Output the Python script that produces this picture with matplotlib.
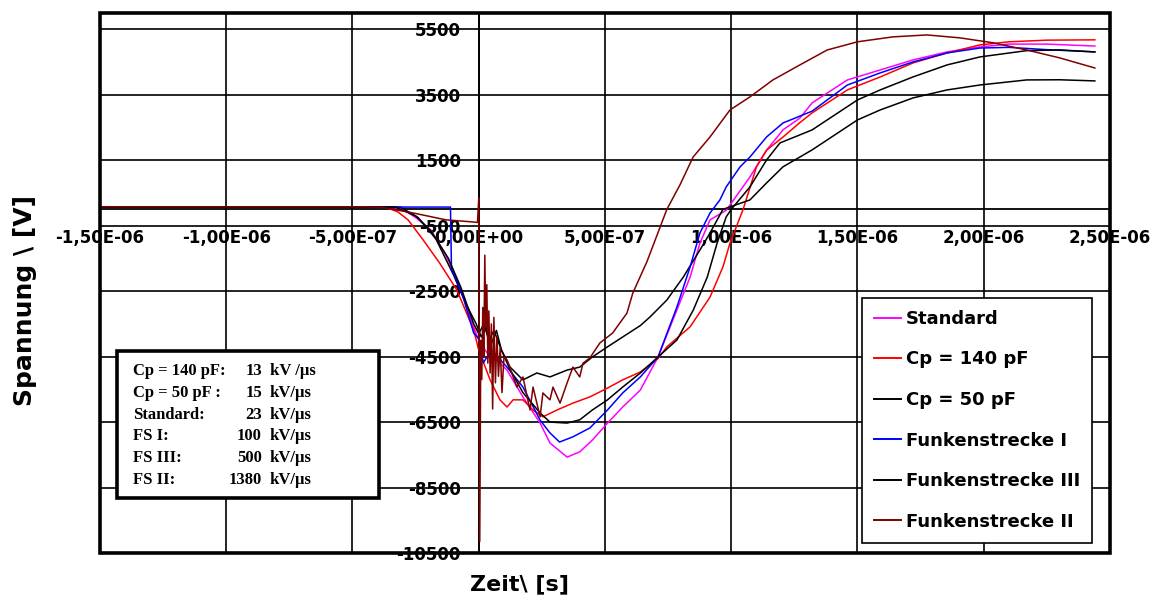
import numpy as np
import matplotlib
matplotlib.use("Agg")
import matplotlib.pyplot as plt
from matplotlib.patches import Rectangle

# Zeit in Mikrosekunden, Spannung in Volt
t_std = [-1.5, -0.35, -0.30, -0.25, -0.19, -0.13, -0.074, -0.02, 0.0, 0.033, 0.07, 0.112, 0.175,
         0.243, 0.282, 0.35, 0.40, 0.45, 0.51, 0.57, 0.64, 0.71, 0.785, 0.837, 0.876, 0.916, 0.98,
         1.074, 1.14, 1.205, 1.272, 1.32, 1.46, 1.59, 1.72, 1.855, 1.985, 2.1, 2.25, 2.44]
v_std = [70, 70, 0, -250, -630, -1400, -2370, -3600, -4000, -4390, -4600, -4910, -5730,
         -6530, -7140, -7570, -7410, -7050, -6530, -6040, -5520, -4510, -3070, -2070, -1030, -320, -30,
         990, 1810, 2430, 2790, 3252, 3955, 4260, 4566, 4811, 4963, 5050, 5050, 4990]

t_cp140 = [-1.5, -0.37, -0.32, -0.28, -0.22, -0.155, -0.087, -0.02, 0.0, 0.045, 0.084, 0.112, 0.136,
           0.175, 0.215, 0.254, 0.31, 0.373, 0.44, 0.51, 0.57, 0.64, 0.71, 0.745, 0.837, 0.916, 0.967,
           0.995, 1.047, 1.10, 1.14, 1.205, 1.27, 1.32, 1.46, 1.59, 1.72, 1.855, 1.985, 2.1, 2.25, 2.44]
v_cp140 = [70, 70, -80, -320, -935, -1640, -2460, -3685, -4300, -5210, -5820, -6040, -5820,
           -5820, -6130, -6340, -6130, -5920, -5730, -5460, -5210, -4970, -4560, -4200, -3590, -2680, -1760,
           -1030, 0, 1300, 1810, 2210, 2640, 2947, 3650, 4047, 4475, 4780, 5025, 5120, 5170, 5180]

t_cp50 = [-1.5, -0.31, -0.24, -0.17, -0.10, -0.05, -0.01, 0.01, 0.03, 0.05, 0.07, 0.09, 0.124, 0.175,
          0.23, 0.282, 0.35, 0.40, 0.45, 0.51, 0.57, 0.64, 0.678, 0.745, 0.81, 0.876, 0.916, 0.967,
          1.074, 1.14, 1.205, 1.32, 1.50, 1.59, 1.72, 1.855, 1.985, 2.17, 2.3, 2.44]
v_cp50 = [70, 70, -250, -900, -2000, -2900, -3500, -3900, -3600, -4100, -3700, -4300, -4820, -5210,
          -5000, -5120, -4910, -4820, -4510, -4200, -3900, -3550, -3290, -2770, -2070, -1240, -720, 0,
          288, 808, 1300, 1816, 2733, 3038, 3405, 3650, 3800, 3955, 3960, 3925]

t_fs1 = [-1.5, -0.112, -0.108, -0.10, -0.062, -0.02, 0.0, 0.018, 0.05, 0.112, 0.175, 0.243, 0.282,
         0.32, 0.373, 0.44, 0.51, 0.57, 0.64, 0.71, 0.785, 0.837, 0.876, 0.916, 0.955, 0.98, 1.035,
         1.074, 1.14, 1.205, 1.272, 1.32, 1.46, 1.59, 1.72, 1.855, 1.985, 2.1, 2.25, 2.44]
v_fs1 = [70, 70, -1850, -1950, -2680, -3780, -3950, -4690, -4300, -4820, -5430, -6440, -6830,
         -7110, -6950, -6680, -6130, -5610, -5120, -4510, -2980, -1760, -720, -110, 288, 685, 1300,
         1600, 2213, 2640, 2850, 3000, 3800, 4170, 4505, 4780, 4930, 4950, 4880, 4811]

t_fs3 = [-1.5, -0.33, -0.25, -0.19, -0.12, -0.07, -0.02, 0.0, 0.02, 0.04, 0.06, 0.09, 0.124, 0.175,
         0.243, 0.282, 0.35, 0.40, 0.45, 0.51, 0.57, 0.64, 0.71, 0.785, 0.85, 0.905, 0.944, 0.98, 1.0,
         1.074, 1.14, 1.193, 1.32, 1.50, 1.59, 1.72, 1.855, 1.985, 2.17, 2.3, 2.44]
v_fs3 = [70, 70, -200, -650, -1500, -2400, -3500, -3800, -3500, -4000, -3700, -4300, -4900, -5600,
         -6220, -6500, -6530, -6430, -6130, -5820, -5430, -5000, -4510, -3990, -3070, -2070, -1030, -230, 0,
         685, 1510, 2030, 2427, 3344, 3650, 4047, 4414, 4658, 4850, 4872, 4811]

t_fs2 = [-1.5, -0.5, -0.39, -0.26, -0.13, -0.03, -0.005, 0.0, 0.004, 0.008, 0.012, 0.016, 0.020,
         0.024, 0.028, 0.032, 0.036, 0.040, 0.045, 0.050, 0.055, 0.060, 0.066, 0.072, 0.078, 0.085,
         0.092, 0.100, 0.112, 0.151, 0.175, 0.203, 0.215, 0.243, 0.254, 0.282, 0.294, 0.322, 0.35,
         0.373, 0.40, 0.413, 0.44, 0.48, 0.53, 0.587, 0.61, 0.666, 0.745, 0.797, 0.849, 0.916, 0.995,
         1.074, 1.165, 1.272, 1.38, 1.50, 1.64, 1.775, 1.906, 2.037, 2.17, 2.30, 2.44]
v_fs2 = [80, 80, 70, -110, -320, -380, -400, 350, -10150, -4000, -5200, -3000, -4500,
         -1400, -3600, -2300, -4700, -3100, -5000, -3500, -6100, -3300, -5300, -3900, -5100, -4200,
         -5600, -4500, -4600, -5430, -5120, -6130, -5430, -6340, -5610, -5820, -5430, -5920, -5300,
         -4820, -5120, -4700, -4540, -4080, -3780, -3170, -2560, -1600, 0, 750, 1600, 2213, 3038,
         3436, 3955, 4414, 4870, 5120, 5270, 5330, 5240, 5090, 4870, 4630, 4320]

series = [
    ("Standard", t_std, v_std, "#ff00ff"),
    ("Cp = 140 pF", t_cp140, v_cp140, "#ff0000"),
    ("Cp = 50 pF", t_cp50, v_cp50, "#000000"),
    ("Funkenstrecke I", t_fs1, v_fs1, "#0000ff"),
    ("Funkenstrecke III", t_fs3, v_fs3, "#000000"),
    ("Funkenstrecke II", t_fs2, v_fs2, "#800000"),
]

x_ticks = [-1.5e-6, -1.0e-6, -5.0e-7, 0.0, 5.0e-7, 1.0e-6, 1.5e-6, 2.0e-6, 2.5e-6]
x_labels = ["-1,50E-06", "-1,00E-06", "-5,00E-07", "0,00E+00", "5,00E-07",
            "1,00E-06", "1,50E-06", "2,00E-06", "2,50E-06"]
y_ticks = [-10500, -8500, -6500, -4500, -2500, -500, 1500, 3500, 5500]

box_names = ["Cp = 140 pF:", "Cp = 50 pF :", "Standard:", "FS I:", "FS III:", "FS II:"]
box_rates = ["13", "15", "23", "100", "500", "1380"]
box_units = ["kV /µs", "kV/µs", "kV/µs", "kV/µs", "kV/µs", "kV/µs"]

W, H = 1155, 604
fig = plt.figure(figsize=(W / 100, H / 100), dpi=100)
ax = fig.add_axes([100 / W, 51 / H, 1010 / W, 540 / H])

lines = []
for name, t, v, col in series:
    ln, = ax.plot(np.array(t) * 1e-6, v, color=col, lw=1.1, label=name, zorder=3)
    lines.append(ln)

ax.set_xlim(-1.5e-6, 2.5e-6)
ax.set_ylim(-10500, 6000)

# Achsen kreuzen bei 0
ax.spines["left"].set_position(("data", 0))
ax.spines["bottom"].set_position(("data", 0))
ax.spines["top"].set_visible(False)
ax.spines["right"].set_visible(False)
for s in ("left", "bottom"):
    ax.spines[s].set_linewidth(1.3)
    ax.spines[s].set_zorder(2)
ax.add_patch(Rectangle((0, 0), 1, 1, transform=ax.transAxes, fill=False,
                       lw=2.6, edgecolor="black", clip_on=False, zorder=5))

ax.set_xticks(x_ticks)
ax.set_xticklabels(x_labels)
ax.set_yticks(y_ticks)
ax.set_yticklabels([str(y) for y in y_ticks])
ax.tick_params(axis="x", length=0, pad=14)
ax.tick_params(axis="y", length=0, pad=13)
for lab in ax.get_xticklabels() + ax.get_yticklabels():
    lab.set_fontweight("bold")
    lab.set_fontsize(12)
ax.grid(True, color="black", lw=1.2, zorder=1)
ax.set_axisbelow(True)

fig.text(25 / W, 1 - 300 / H, "Spannung \\ [V]", rotation=90, ha="center", va="center",
         fontsize=18, fontweight="bold")
fig.text(519 / W, 1 - 584 / H, "Zeit\\ [s]", ha="center", va="center",
         fontsize=16, fontweight="bold")

leg = ax.legend(handles=lines, loc="upper left", bbox_to_anchor=(862 / W, 1 - 298 / H),
                bbox_transform=fig.transFigure, borderaxespad=0, fancybox=False,
                edgecolor="black", framealpha=1, prop={"weight": "bold", "size": 13},
                handlelength=1.5, handletextpad=0.28, labelspacing=1.25, borderpad=0.66)
leg.get_frame().set_linewidth(1.2)
leg.set_zorder(6)
for h in leg.get_lines():
    h.set_linewidth(1.4)

# Textkasten mit Anstiegsraten
fig.patches.append(Rectangle((117 / W, 1 - 498 / H), 262 / W, 147 / H, transform=fig.transFigure,
                             facecolor="white", edgecolor="black", lw=2.6, zorder=6))
serif = {"family": "Liberation Serif", "weight": "bold", "size": 12}
for i in range(len(box_names)):
    yy = 1 - (371 + i * 21.8) / H
    fig.text(133 / W, yy, box_names[i], ha="left", va="center", fontdict=serif, zorder=7)
    fig.text(262 / W, yy, box_rates[i], ha="right", va="center", fontdict=serif, zorder=7)
    fig.text(270 / W, yy, box_units[i], ha="left", va="center", fontdict=serif, zorder=7)

fig.savefig("out.png", dpi=100)
